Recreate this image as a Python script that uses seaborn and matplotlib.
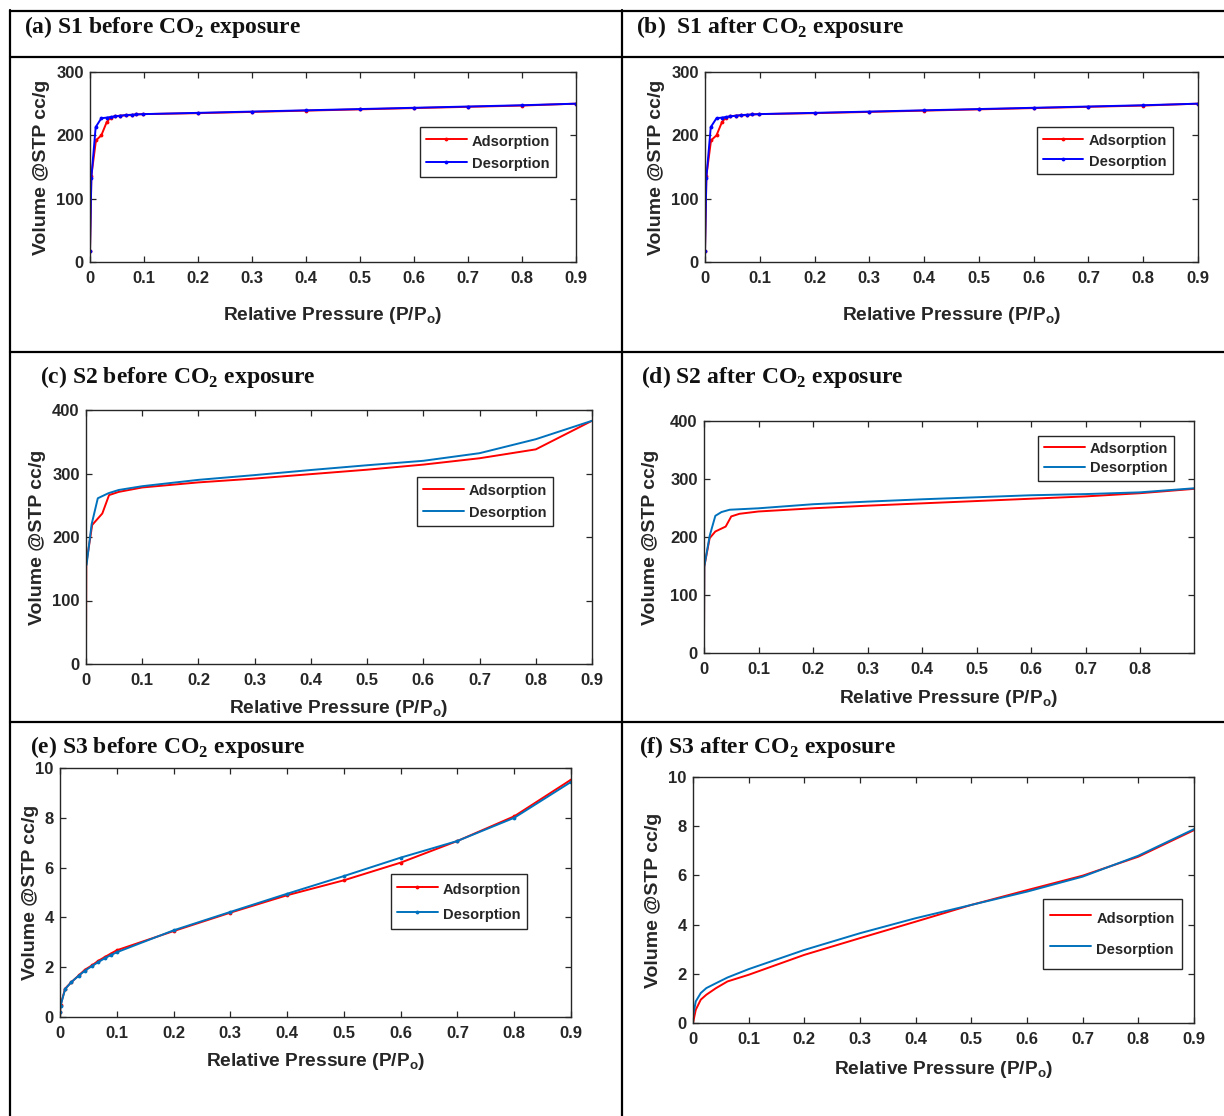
import matplotlib
matplotlib.use("Agg")
import matplotlib.pyplot as plt
from matplotlib.lines import Line2D
import seaborn as sns

# S1 (same isotherm before and after exposure)
s1_ads_x = [0, 0.0025, 0.011, 0.021, 0.031, 0.038, 0.046, 0.056, 0.066, 0.077, 0.086, 0.099,
            0.2, 0.3, 0.4, 0.5, 0.6, 0.7, 0.8, 0.9]
s1_ads_y = [18, 136, 192, 200, 221, 228, 230, 231, 231.5, 232, 233, 233.5,
            235, 237, 239, 241, 243, 245, 247, 250]
s1_des_x = [0.9, 0.8, 0.7, 0.6, 0.5, 0.4, 0.3, 0.2, 0.099, 0.086, 0.077, 0.066, 0.056,
            0.046, 0.038, 0.031, 0.021, 0.0105, 0.0025, 0]
s1_des_y = [250, 247.5, 245.5, 243.5, 241.5, 239.5, 237.5, 235.5, 233.5, 233, 232.5, 232, 231,
            230, 229, 228, 227, 213, 133, 18]

# S2 before
s2b_ads_x = [0, 0.0005, 0.011, 0.029, 0.041, 0.058, 0.1, 0.2, 0.3, 0.4, 0.5, 0.6, 0.7, 0.8, 0.9]
s2b_ads_y = [22, 158, 219, 237, 266, 271, 278, 286, 292, 299, 306, 314, 324, 338, 383]
s2b_des_x = [0.9, 0.8, 0.7, 0.6, 0.5, 0.4, 0.3, 0.2, 0.1, 0.058, 0.04, 0.021, 0.010, 0.001]
s2b_des_y = [383, 354, 332, 320, 313, 305.5, 297.5, 290, 280, 274, 269, 261, 220, 156]

# S2 after
s2a_ads_x = [0, 0.0005, 0.0104, 0.0208, 0.0398, 0.050, 0.065, 0.1, 0.2, 0.3, 0.4, 0.5,
             0.6, 0.7, 0.8, 0.899]
s2a_ads_y = [25, 149, 198, 209.5, 218, 235.5, 240, 244, 249.5, 254, 258, 262,
             266, 270, 275.5, 283]
s2a_des_x = [0.899, 0.8, 0.7, 0.6, 0.5, 0.4, 0.3, 0.2, 0.1, 0.047, 0.032, 0.0208,
             0.0104, 0.0005, 0]
s2a_des_y = [284, 277, 274, 272, 268.5, 265, 261, 256.5, 249.5, 247, 243, 236.5,
             202, 149, 30]

# S3 before
s3b_ads_x = [0, 0.001, 0.009, 0.02, 0.033, 0.044, 0.056, 0.067, 0.079, 0.089, 0.1,
             0.2, 0.3, 0.4, 0.5, 0.6, 0.7, 0.8, 0.9]
s3b_ads_y = [0.2, 0.47, 1.14, 1.4, 1.67, 1.9, 2.07, 2.25, 2.41, 2.54, 2.68,
             3.45, 4.19, 4.89, 5.49, 6.2, 7.07, 8.06, 9.53]
s3b_des_x = [0.9, 0.8, 0.7, 0.6, 0.5, 0.4, 0.3, 0.2, 0.1, 0.089, 0.079, 0.067, 0.056,
             0.044, 0.033, 0.02, 0.009, 0.001, 0]
s3b_des_y = [9.44, 8.0, 7.07, 6.4, 5.66, 4.95, 4.22, 3.48, 2.6, 2.48, 2.36, 2.2, 2.04,
             1.86, 1.66, 1.4, 1.12, 0.45, 0.2]

# S3 after
s3a_ads_x = [0, 0.005, 0.014, 0.024, 0.0415, 0.062, 0.1, 0.2, 0.3, 0.4, 0.5, 0.6, 0.7, 0.8, 0.9]
s3a_ads_y = [0, 0.54, 0.95, 1.15, 1.42, 1.69, 1.96, 2.77, 3.45, 4.12, 4.8, 5.4, 5.99, 6.76, 7.84]
s3a_des_x = [0.9, 0.8, 0.7, 0.6, 0.5, 0.4, 0.3, 0.2, 0.1, 0.062, 0.0415, 0.024, 0.014, 0.005, 0]
s3a_des_y = [7.88, 6.8, 5.95, 5.34, 4.8, 4.26, 3.65, 2.97, 2.19, 1.85, 1.62, 1.42, 1.22, 0.88, 0.27]

titles = ["(a) S1 before CO$_\\mathrm{2}$ exposure", "(b)  S1 after CO$_\\mathrm{2}$ exposure",
          "(c) S2 before CO$_\\mathrm{2}$ exposure", "(d) S2 after CO$_\\mathrm{2}$ exposure",
          "(e) S3 before CO$_\\mathrm{2}$ exposure", "(f) S3 after CO$_\\mathrm{2}$ exposure"]
xticks_full = [0, 0.1, 0.2, 0.3, 0.4, 0.5, 0.6, 0.7, 0.8, 0.9]
xticks_short = [0, 0.1, 0.2, 0.3, 0.4, 0.5, 0.6, 0.7, 0.8]
yticks_s1 = [0, 100, 200, 300]
yticks_s2 = [0, 100, 200, 300, 400]
yticks_s3 = [0, 2, 4, 6, 8, 10]

sns.set_style("ticks")
plt.rcParams['font.family'] = ['Liberation Sans', 'DejaVu Sans']
plt.rcParams['mathtext.fontset'] = 'custom'
plt.rcParams['mathtext.rm'] = 'Liberation Serif:bold'
plt.rcParams['mathtext.sf'] = 'Liberation Sans:bold'

W, H = 1224, 1116
fig = plt.figure(figsize=(W / 100, H / 100), dpi=100)
GRAY = '#262626'
MBLUE = '#0072BD'


def px_axes(l, t, r, b):
    return fig.add_axes([l / W, 1 - b / H, (r - l) / W, (b - t) / H])


def panel(ax, ax_x, ay, dx, dy, des_color, marker, xlim, xticks, ylim, yticks,
          leg_pos, ylab_x, leg):
    kw = dict(sort=False, estimator=None, ax=ax, linewidth=1.4)
    if marker:
        kw.update(marker='.', markersize=5.5, markeredgewidth=0)
    sns.lineplot(x=ax_x, y=ay, color='#FF0000', label='Adsorption', **kw)
    sns.lineplot(x=dx, y=dy, color=des_color, label='Desorption', **kw)
    ax.set_xlim(*xlim)
    ax.set_ylim(*ylim)
    ax.set_xticks(xticks)
    ax.set_xticklabels(['0' if v == 0 else f'{v:g}' for v in xticks])
    ax.set_yticks(yticks)
    ax.set_yticklabels([f'{v:g}' for v in yticks])
    for s in ax.spines.values():
        s.set_visible(True)
        s.set_color(GRAY)
        s.set_linewidth(1.0)
    ax.tick_params(direction='in', top=True, right=True, length=4, width=0.9,
                   color=GRAY, labelcolor=GRAY, labelsize=12)
    ax.tick_params(axis='x', pad=6.5)
    ax.tick_params(axis='y', pad=4.5)
    for lab in ax.get_xticklabels() + ax.get_yticklabels():
        lab.set_fontweight('bold')
    ax.set_xlabel('Relative Pressure (P/P$_\\mathsf{o}$)', fontsize=13.8,
                  fontweight='bold', color=GRAY)
    ax.set_ylabel('Volume @STP cc/g', fontsize=14, fontweight='bold', color=GRAY)
    ax.yaxis.set_label_coords(ylab_x, 0.5)
    spacing, pad, hh = leg
    lg = ax.legend(loc='upper left', bbox_to_anchor=leg_pos, borderaxespad=0,
                   frameon=True, fancybox=False, edgecolor=GRAY,
                   prop={'weight': 'bold', 'size': 10.5}, handlelength=2.8,
                   handleheight=hh, handletextpad=0.35, borderpad=pad,
                   labelspacing=spacing)
    lg.get_frame().set_linewidth(1.0)
    lg.get_frame().set_alpha(1)
    return ax


# (left, top, right, bottom) in pixels
ax_a = px_axes(90, 72, 576, 262)
ax_b = px_axes(705, 72, 1198, 262)
ax_c = px_axes(86, 410, 592, 664)
ax_d = px_axes(704, 421, 1194, 653)
ax_e = px_axes(60, 768, 571, 1017)
ax_f = px_axes(693, 777, 1194, 1023)

# legend: (labelspacing, borderpad, handleheight)
panel(ax_a, s1_ads_x, s1_ads_y, s1_des_x, s1_des_y, '#0000FF', True, (0, 0.9), xticks_full,
      (0, 300), yticks_s1, (0.679, 0.711), -0.082, (0.45, 0.4, 1.3))
panel(ax_b, s1_ads_x, s1_ads_y, s1_des_x, s1_des_y, '#0000FF', True, (0, 0.9), xticks_full,
      (0, 300), yticks_s1, (0.673, 0.711), -0.082, (0.35, 0.4, 1.2))
panel(ax_c, s2b_ads_x, s2b_ads_y, s2b_des_x, s2b_des_y, MBLUE, False, (0, 0.9), xticks_full,
      (0, 400), yticks_s2, (0.654, 0.736), -0.080, (0.45, 0.4, 1.2))
panel(ax_d, s2a_ads_x, s2a_ads_y, s2a_des_x, s2a_des_y, MBLUE, False, (0, 0.899), xticks_short,
      (0, 400), yticks_s2, (0.682, 0.935), -0.092, (0.35, 0.4, 0.9))
panel(ax_e, s3b_ads_x, s3b_ads_y, s3b_des_x, s3b_des_y, MBLUE, True, (0, 0.9), xticks_full,
      (0, 10), yticks_s3, (0.648, 0.574), -0.042, (0.5, 0.4, 1.5))
panel(ax_f, s3a_ads_x, s3a_ads_y, s3a_des_x, s3a_des_y, MBLUE, False, (0, 0.9), xticks_full,
      (0, 10), yticks_s3, (0.699, 0.504), -0.061, (0.45, 0.5, 2.2))

# x label baselines in pixels
for ax, (t, b), base in [(ax_a, (72, 262), 320), (ax_b, (72, 262), 320),
                         (ax_c, (410, 664), 713), (ax_d, (421, 653), 703),
                         (ax_e, (768, 1017), 1066), (ax_f, (777, 1023), 1074)]:
    ax.xaxis.label.set_va('baseline')
    ax.xaxis.set_label_coords(0.5, (b - base) / (b - t))

# panel titles
for (x, y), txt in zip([(24, 27), (636, 27), (40, 377), (641, 377), (30, 747), (639, 747)], titles):
    fig.text(x / W, 1 - y / H, txt, fontsize=17, ha='left', va='center',
             family='Liberation Serif', fontweight='bold', color='#111111')


# frame lines
def fline(x0, y0, x1, y1):
    fig.add_artist(Line2D([x0 / W, x1 / W], [1 - y0 / H, 1 - y1 / H], color='black',
                          linewidth=1.6, transform=fig.transFigure))


fline(10, 10.5, W, 10.5)
fline(10, 57, W, 57)
fline(10, 352, W, 352)
fline(10, 721.5, W, 721.5)
fline(10, 10, 10, H)
fline(622, 10, 622, H)

fig.savefig('out.png', dpi=100)
